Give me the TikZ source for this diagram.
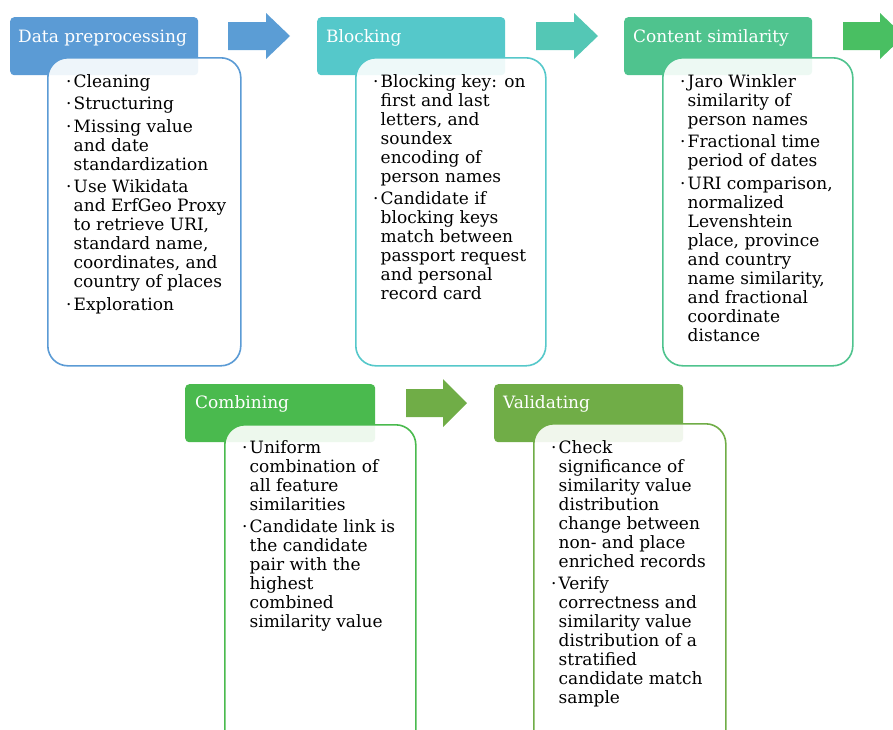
\documentclass[tikz,border=0pt]{standalone}
\usepackage{fontspec}
\setmainfont{DejaVu Serif}
\definecolor{cA}{HTML}{5B9BD5}
\definecolor{aA}{HTML}{5B9DD5}
\definecolor{cB}{HTML}{55C8CA}
\definecolor{aB}{HTML}{54C7B5}
\definecolor{cC}{HTML}{4FC38E}
\definecolor{aC}{HTML}{49BF62}
\definecolor{cD}{HTML}{4ABA4E}
\definecolor{aD}{HTML}{70AD47}
\definecolor{cE}{HTML}{70AD47}
\newcommand\bl{\makebox[7.5pt][l]{·}}
\begin{document}
\begin{tikzpicture}[x=1pt,y=-1pt,
  hdr/.style={rounded corners=4pt, minimum width=188pt, minimum height=58pt, anchor=north west, inner sep=0pt},
  hlabel/.style={text=white, anchor=base west, inner sep=0pt, font=\fontsize{17}{19}\selectfont},
  cbox/.style={draw, line width=1.6pt, fill=white, fill opacity=0.9, rounded corners=20pt, minimum width=192pt, anchor=north west, inner sep=0pt},
  txt/.style={anchor=base west, inner sep=0pt, text=black, font=\fontsize{17}{19}\selectfont},
  arrowshape/.style={draw=none}
]
\useasboundingbox (0,0) rectangle (893,729);
\clip (0,0) rectangle (893,729);

% arrows
\fill[aA,arrowshape] (228,22) -- (266,22) -- (266,13) -- (290,36) -- (266,59) -- (266,50) -- (228,50) -- cycle;
\fill[aB,arrowshape] (536,22) -- (574,22) -- (574,13) -- (598,36) -- (574,59) -- (574,50) -- (536,50) -- cycle;
\fill[aC,arrowshape] (843,22) -- (880,22) -- (880,13) -- (904,36) -- (880,59) -- (880,50) -- (843,50) -- cycle;
\fill[aD,arrowshape] (406,389) -- (443,389) -- (443,379) -- (467,403) -- (443,427) -- (443,417) -- (406,417) -- cycle;

% headers
\node[hdr, fill=cA] (h1) at (10,17) {};
\node[hdr, fill=cB] (h2) at (317,17) {};
\node[hdr, fill=cC] (h3) at (624,17) {};
\node[hdr, fill=cD, minimum width=190pt] (h4) at (185,384) {};
\node[hdr, fill=cE, minimum width=189pt] (h5) at (494,384) {};

\node[hlabel] (l1) at (18,42) {Data preprocessing};
\node[hlabel] (l2) at (326,42) {Blocking};
\node[hlabel] (l3) at (633,42) {Content similarity};
\node[hlabel] (l4) at (195,408) {Combining};
\node[hlabel] (l5) at (503,408) {Validating};

% content boxes
\node[cbox, draw=cA, minimum width=193pt, minimum height=308pt] (b1) at (47,57) {};
\node[cbox, draw=cB, minimum width=190pt, minimum height=308pt] (b2) at (355,57) {};
\node[cbox, draw=cC, minimum width=190pt, minimum height=308pt] (b3) at (662,57) {};
\node[cbox, draw=cD, minimum width=191pt, minimum height=330pt] (b4) at (224,424) {};
\node[cbox, draw=cE, minimum width=192pt, minimum height=330pt] (b5) at (533,423) {};

% texts
\node[txt] (t1) at (66,87) {\begin{tabular}[t]{@{}l@{}l@{}}
\bl&Cleaning\\[3.5pt]
\bl&Structuring\\[3.5pt]
\bl&Missing value\\ &and date\\ &standardization\\[3.5pt]
\bl&Use Wikidata\\ &and ErfGeo Proxy\\ &to retrieve URI,\\ &standard name,\\ &coordinates, and\\ &country of places\\[3.5pt]
\bl&Exploration
\end{tabular}};

\node[txt] (t2) at (373,87) {\begin{tabular}[t]{@{}l@{}l@{}}
\bl&Blocking key: on\\ &first and last\\ &letters, and\\ &soundex\\ &encoding of\\ &person names\\[3.5pt]
\bl&Candidate if\\ &blocking keys\\ &match between\\ &passport request\\ &and personal\\ &record card
\end{tabular}};

\node[txt] (t3) at (680,87) {\begin{tabular}[t]{@{}l@{}l@{}}
\bl&Jaro Winkler\\ &similarity of\\ &person names\\[3.5pt]
\bl&Fractional time\\ &period of dates\\[3.5pt]
\bl&URI comparison,\\ &normalized\\ &Levenshtein\\ &place, province\\ &and country\\ &name similarity,\\ &and fractional\\ &coordinate\\ &distance
\end{tabular}};

\node[txt] (t4) at (242,453) {\begin{tabular}[t]{@{}l@{}l@{}}
\bl&Uniform\\ &combination of\\ &all feature\\ &similarities\\[3.5pt]
\bl&Candidate link is\\ &the candidate\\ &pair with the\\ &highest\\ &combined\\ &similarity value
\end{tabular}};

\node[txt] (t5) at (551,453) {\begin{tabular}[t]{@{}l@{}l@{}}
\bl&Check\\ &significance of\\ &similarity value\\ &distribution\\ &change between\\ &non- and place\\ &enriched records\\[3.5pt]
\bl&Verify\\ &correctness and\\ &similarity value\\ &distribution of a\\ &stratified\\ &candidate match\\ &sample
\end{tabular}};
\end{tikzpicture}
\end{document}
